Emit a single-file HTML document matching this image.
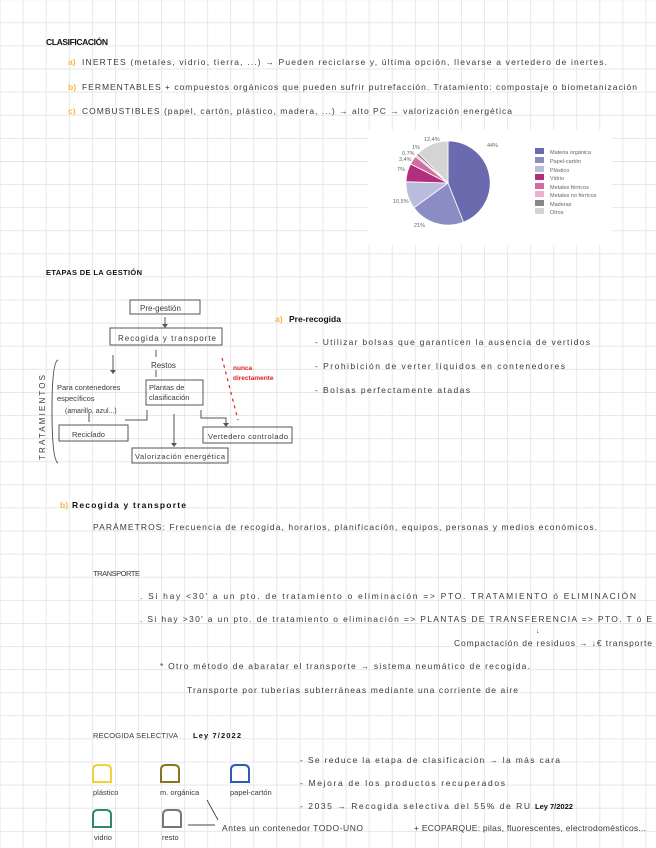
<!DOCTYPE html>
<html><head><meta charset="utf-8"><style>
html,body{margin:0;padding:0;background:#fff;}
body{width:656px;height:848px;overflow:hidden;position:relative;}
svg{position:absolute;left:0;top:0;}
text{font-family:"Liberation Sans",sans-serif;fill:#3a3a3a;font-size:8.5px;}
.b{font-weight:bold;fill:#111;}
.o{fill:#f5b942;font-weight:bold;}
.r{fill:#e02020;font-weight:bold;font-size:6.5px;}
.s{font-size:5.5px;fill:#666;}
</style></head><body>
<svg width="656" height="848" viewBox="0 0 656 848">
<defs>
<pattern id="g" x="22.7" y="22.4" width="23.07" height="23.1" patternUnits="userSpaceOnUse">
<path d="M0 0V23.1M0 0H23.07" stroke="#dcdfe3" stroke-width="1.4" fill="none"/>
</pattern>
</defs>
<rect width="656" height="848" fill="#fff"/>
<rect width="656" height="848" fill="url(#g)"/>
<rect x="368" y="130" width="244" height="115" fill="#fff"/>

<text x="46" y="45" class="b" textLength="62">CLASIFICACIÓN</text>
<text x="68" y="65" class="o">a)</text>
<text x="82" y="65" textLength="525">INERTES (metales, vidrio, tierra, ...) → Pueden reciclarse y, última opción, llevarse a vertedero de inertes.</text>
<text x="68" y="90" class="o">b)</text>
<text x="82" y="90" textLength="555">FERMENTABLES + compuestos orgánicos que pueden sufrir putrefacción. Tratamiento: compostaje o biometanización</text>
<text x="68" y="114" class="o">c)</text>
<text x="82" y="114" textLength="430">COMBUSTIBLES (papel, cartón, plástico, madera, ...) → alto PC → valorización energética</text>

<g stroke="#fff" stroke-width="0.8">
<path d="M448 183L448 141A42 42 0 0 1 463.5 222.1Z" fill="#6a6aae"/>
<path d="M448 183L463.5 222.1A42 42 0 0 1 414 207.7Z" fill="#8c8cc4"/>
<path d="M448 183L414 207.7A42 42 0 0 1 406 181.7Z" fill="#bcbcdd"/>
<path d="M448 183L406 181.7A42 42 0 0 1 410.6 163.9Z" fill="#b12f7c"/>
<path d="M448 183L410.6 163.9A42 42 0 0 1 415.5 156.5Z" fill="#d06ea2"/>
<path d="M448 183L415.5 156.5A42 42 0 0 1 416.6 155.1Z" fill="#e9b3cf"/>
<path d="M448 183L416.6 155.1A42 42 0 0 1 418.5 153.1Z" fill="#888"/>
<path d="M448 183L418.5 153.1A42 42 0 0 1 448 141Z" fill="#d4d4d4"/>
</g>
<text x="487" y="147" class="s">44%</text><text x="414" y="227" class="s">21%</text>
<text x="393" y="203" class="s">10,5%</text><text x="397" y="171" class="s">7%</text>
<text x="399" y="161" class="s">3,4%</text><text x="402" y="155" class="s">0,7%</text>
<text x="412" y="149" class="s">1%</text><text x="424" y="141" class="s">12,4%</text>
<g>
<rect x="535" y="148" width="9" height="6" fill="#6a6aae"/><text x="550" y="154" class="s">Materia orgánica</text>
<rect x="535" y="157" width="9" height="6" fill="#8c8cc4"/><text x="550" y="163" class="s">Papel-cartón</text>
<rect x="535" y="166" width="9" height="6" fill="#bcbcdd"/><text x="550" y="172" class="s">Plástico</text>
<rect x="535" y="174" width="9" height="6" fill="#b12f7c"/><text x="550" y="180" class="s">Vidrio</text>
<rect x="535" y="183" width="9" height="6" fill="#d06ea2"/><text x="550" y="189" class="s">Metales férricos</text>
<rect x="535" y="191" width="9" height="6" fill="#e9b3cf"/><text x="550" y="197" class="s">Metales no férricos</text>
<rect x="535" y="200" width="9" height="6" fill="#888"/><text x="550" y="206" class="s">Maderas</text>
<rect x="535" y="208" width="9" height="6" fill="#d4d4d4"/><text x="550" y="214" class="s">Otros</text>
</g>

<text x="46" y="275" class="b" textLength="96" style="font-size:7.5px">ETAPAS DE LA GESTIÓN</text>

<g fill="none" stroke="#555" stroke-width="1">
<rect x="130" y="300" width="70" height="14"/>
<rect x="110" y="328" width="112" height="17"/>
<rect x="146" y="380" width="57" height="25"/>
<rect x="59" y="425" width="69" height="16"/>
<rect x="203" y="427" width="89" height="16"/>
<rect x="132" y="448" width="96" height="15"/>
<path d="M165 317V325M113 355V370M156 350V357M156 370V377M147 410V420H125M174 414V444M201 410V418H226V425"/>
<path d="M89 413V422M58 360Q52 362 52 410Q52 460 58 463"/>
</g>
<g fill="#555"><path d="M110 370h6l-3 4z"/><path d="M171 443h6l-3 4z"/><path d="M223 423h6l-3 4z"/><path d="M162 324h6l-3 4z"/></g>
<text x="140" y="311" style="font-size:8px">Pre-gestión</text>
<text x="118" y="341" textLength="98" style="font-size:8px">Recogida y transporte</text>
<text x="151" y="368" style="font-size:8px">Restos</text>
<text x="149" y="390" style="font-size:7.5px">Plantas de</text>
<text x="149" y="400" style="font-size:7.5px">clasificación</text>
<text x="57" y="390" style="font-size:7.5px">Para contenedores</text>
<text x="57" y="401" style="font-size:7.5px">específicos</text>
<text x="65" y="413" style="font-size:7px">(amarillo, azul...)</text>
<text x="72" y="437" style="font-size:7.5px">Reciclado</text>
<text x="208" y="439" style="font-size:7.5px" textLength="80">Vertedero controlado</text>
<text x="135" y="459" style="font-size:7.5px" textLength="90">Valorización energética</text>
<text transform="translate(45,460) rotate(-90)" style="font-size:8px" textLength="85">TRATAMIENTOS</text>
<path d="M222 358L238 420" stroke="#e02020" stroke-width="1.2" stroke-dasharray="3 4" fill="none"/>
<text x="233" y="370" class="r">nunca</text>
<text x="233" y="380" class="r">directamente</text>

<text x="275" y="322" class="o">a)</text><text x="289" y="322" class="b">Pre-recogida</text>
<text x="315" y="345" textLength="275">- Utilizar bolsas que garanticen la ausencia de vertidos</text>
<text x="315" y="369" textLength="250">- Prohibición de verter líquidos en contenedores</text>
<text x="315" y="393" textLength="155">- Bolsas perfectamente atadas</text>

<text x="60" y="508" class="o">b)</text><text x="72" y="508" class="b" textLength="114">Recogida y transporte</text>
<text x="93" y="530" textLength="504">PARÁMETROS: Frecuencia de recogida, horarios, planificación, equipos, personas y medios económicos.</text>
<text x="93" y="576" style="font-size:7.5px" textLength="47">TRANSPORTE</text>
<text x="140" y="599" textLength="496">. Si hay &lt;30' a un pto. de tratamiento o eliminación  =&gt; PTO. TRATAMIENTO ó ELIMINACIÓN</text>
<text x="140" y="622" textLength="512">. Si hay &gt;30' a un pto. de tratamiento o eliminación =&gt; PLANTAS DE TRANSFERENCIA =&gt; PTO. T ó E</text>
<text x="536" y="633" style="font-size:7px">↓</text>
<text x="454" y="646" textLength="198">Compactación de residuos → ↓€ transporte</text>
<text x="160" y="669" textLength="370">* Otro método de abaratar el transporte → sistema neumático de recogida.</text>
<text x="187" y="693" textLength="331">Transporte por tuberías subterráneas mediante una corriente de aire</text>

<text x="93" y="738" style="font-size:7.5px" textLength="85">RECOGIDA SELECTIVA</text>
<text x="193" y="738" class="b" style="font-size:7.5px" textLength="48">Ley 7/2022</text>
<text x="300" y="763" textLength="260">- Se reduce la etapa de clasificación → la más cara</text>
<text x="300" y="786" textLength="205">- Mejora de los productos recuperados</text>
<text x="300" y="809" textLength="230">- 2035 → Recogida selectiva del 55% de RU</text>
<text x="535" y="809" class="b" style="font-size:7.5px">Ley 7/2022</text>
<g fill="none" stroke-width="2">
<path d="M93 782V770Q93 765 98 765H106Q111 765 111 770V782Z" stroke="#f3cf3a"/>
<path d="M161 782V770Q161 765 166 765H174Q179 765 179 770V782Z" stroke="#8b7420"/>
<path d="M231 782V770Q231 765 236 765H244Q249 765 249 770V782Z" stroke="#2f5bb5"/>
<path d="M93 827V815Q93 810 98 810H106Q111 810 111 815V827Z" stroke="#2f8a6a"/>
<path d="M163 827V815Q163 810 168 810H176Q181 810 181 815V827Z" stroke="#777"/>
</g>
<text x="93" y="795" style="font-size:7.5px">plástico</text>
<text x="160" y="795" style="font-size:7.5px">m. orgánica</text>
<text x="230" y="795" style="font-size:7.5px">papel-cartón</text>
<text x="94" y="840" style="font-size:7.5px">vidrio</text>
<text x="162" y="840" style="font-size:7.5px">resto</text>
<path d="M188 825H215M207 800L218 820" stroke="#444" stroke-width="0.9" fill="none"/>
<text x="222" y="831" textLength="141">Antes un contenedor TODO-UNO</text>
<text x="414" y="831" textLength="232">+ ECOPARQUE: pilas, fluorescentes, electrodomésticos...</text>
</svg>
</body></html>
